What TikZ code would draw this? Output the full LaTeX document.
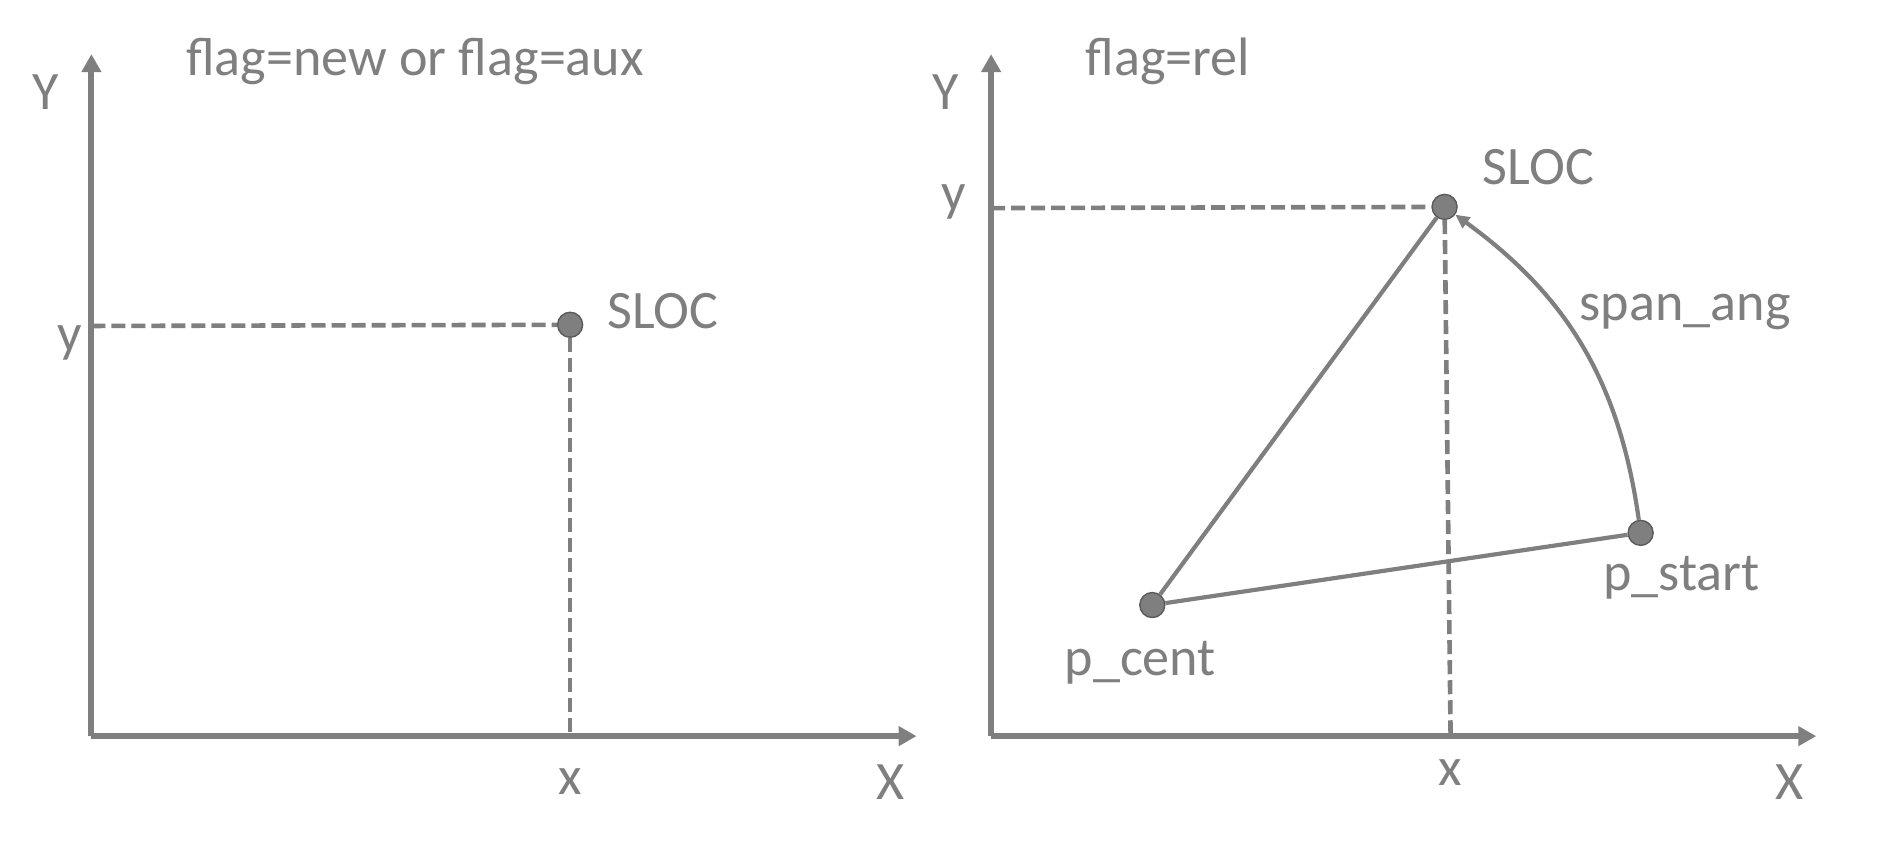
\documentclass[tikz,border=0pt]{standalone}
\usepackage{fontspec}
\setmainfont{Carlito}
\usepackage{tikz}
\usetikzlibrary{arrows.meta, positioning}
\definecolor{axisgray}{HTML}{7F7F7F}
\definecolor{dotedge}{HTML}{5A5A5A}

\begin{document}
\begin{tikzpicture}[x=0.012028cm, y=-0.012028cm,
    axis/.style={-{Triangle[length=0.18cm, width=0.19cm]}, line width=0.06cm, axisgray},
    guide/.style={dash pattern=on 0.14cm off 0.06cm, line width=0.046cm, axisgray},
    link/.style={line width=0.042cm, axisgray},
    dot/.style={circle, fill=axisgray, draw=dotedge, line width=0.014cm, minimum size=0.25cm, inner sep=0pt},
    lbl/.style={text=axisgray, inner sep=0pt, font=\fontsize{15.4}{18}\selectfont}
]
\useasboundingbox (0,0) rectangle (1568,701);

% left panel: flag=new / aux
\coordinate (origA) at (76,612);
\coordinate (ytipA) at (76,45);
\coordinate (xtipA) at (762,612);
\draw[axis] (origA) -- (ytipA);
\draw[axis] (origA) -- (xtipA);
\node[dot] (slocA) at (474,270) {};
\coordinate (yfootA) at (76,271);
\coordinate (xfootA) at (474,612);
\draw[guide] (yfootA) -- (slocA);
\draw[guide] (slocA) -- (xfootA);

\node[lbl] (titleA) at (345,51) {flag=new or flag=aux};
\node[lbl] (YA) at (38,77) {Y};
\node[lbl] (ysA) at (58,285) {y};
\node[lbl] (xsA) at (474,650) {x};
\node[lbl] (XA) at (740,650) {X};
\node[lbl] (slocAlbl) at (551,259) {SLOC};

% right panel: flag=rel
\coordinate (origB) at (824,612);
\coordinate (ytipB) at (824,45);
\coordinate (xtipB) at (1510,612);
\draw[axis] (origB) -- (ytipB);
\draw[axis] (origB) -- (xtipB);
\node[dot] (slocB) at (1201,172) {};
\node[dot] (pcent) at (958,503) {};
\node[dot] (pstart) at (1364,443) {};
\coordinate (yfootB) at (824,173);
\coordinate (xfootB) at (1206,612);
\draw[guide] (yfootB) -- (slocB);
\draw[guide] (slocB) -- (xfootB);

\draw[link] (pcent) -- (slocB);
\draw[link] (pcent) -- (pstart);
\draw[link, -{Triangle[length=0.14cm, width=0.13cm]}] (pstart) to[bend right=23] (slocB);

\node[lbl] (titleB) at (971,51) {flag=rel};
\node[lbl] (YB) at (786,77) {Y};
\node[lbl] (ysB) at (793,168) {y};
\node[lbl] (xsB) at (1206,642) {x};
\node[lbl] (XB) at (1488,650) {X};
\node[lbl] (slocBlbl) at (1279,139) {SLOC};
\node[lbl] (spanlbl) at (1401,259) {span\_ang};
\node[lbl] (pstartlbl) at (1398,480) {p\_start};
\node[lbl] (pcentlbl) at (948,551) {p\_cent};
\end{tikzpicture}
\end{document}
